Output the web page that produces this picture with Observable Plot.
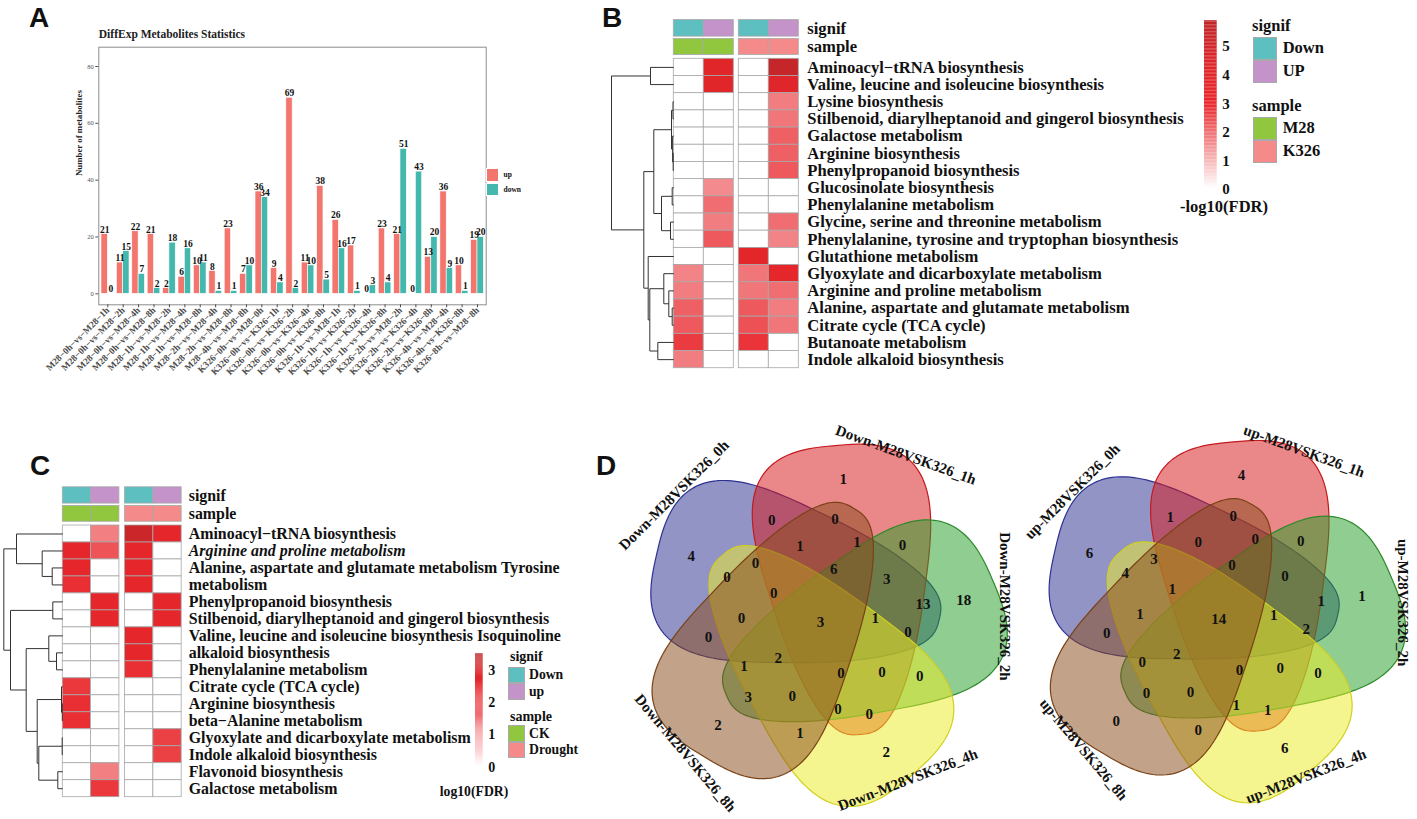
<!DOCTYPE html>
<html><head><meta charset="utf-8">
<script src="https://cdn.jsdelivr.net/npm/d3@7"></script>
<script src="https://cdn.jsdelivr.net/npm/@observablehq/plot@0.6"></script>
<style>
html,body{margin:0;padding:0;background:#fff;}
#root{position:relative;width:1417px;height:819px;overflow:hidden;font-family:"Liberation Serif","Times New Roman",serif;}
.t{position:absolute;white-space:nowrap;line-height:0;font-weight:bold;color:#111;}
.sw{position:absolute;box-sizing:border-box;}
svg{overflow:visible;}
</style></head><body><div id="root"></div>
<script>
const SERIF = "Liberation Serif, Times New Roman, serif";

// ---------------- Panel A data ----------------
const groupsA = ["M28−0h−vs−M28−1h","M28−0h−vs−M28−2h","M28−0h−vs−M28−4h","M28−0h−vs−M28−8h","M28−1h−vs−M28−2h","M28−1h−vs−M28−4h","M28−1h−vs−M28−8h","M28−2h−vs−M28−4h","M28−2h−vs−M28−8h","M28−4h−vs−M28−8h","K326−0h−vs−M28−0h","K326−0h−vs−K326−1h","K326−0h−vs−K326−2h","K326−0h−vs−K326−4h","K326−0h−vs−K326−8h","K326−1h−vs−M28−1h","K326−1h−vs−K326−2h","K326−1h−vs−K326−4h","K326−1h−vs−K326−8h","K326−2h−vs−M28−2h","K326−2h−vs−K326−4h","K326−2h−vs−K326−8h","K326−4h−vs−M28−4h","K326−4h−vs−K326−8h","K326−8h−vs−M28−8h"];
const upA   = [21,11,22,21,2,6,10,8,23,7,36,9,69,11,38,26,17,0,23,21,0,13,36,10,19];
const downA = [0,15,7,2,18,16,11,1,1,10,34,4,2,10,5,16,1,3,4,51,43,20,9,1,20];
const yTicksA = [0,20,40,60,80];

// ---------------- Panel B data ----------------
const rowsB = ["Aminoacyl−tRNA biosynthesis","Valine, leucine and isoleucine biosynthesis","Lysine biosynthesis","Stilbenoid, diarylheptanoid and gingerol biosynthesis","Galactose metabolism","Arginine biosynthesis","Phenylpropanoid biosynthesis","Glucosinolate biosynthesis","Phenylalanine metabolism","Glycine, serine and threonine metabolism","Phenylalanine, tyrosine and tryptophan biosynthesis","Glutathione metabolism","Glyoxylate and dicarboxylate metabolism","Arginine and proline metabolism","Alanine, aspartate and glutamate metabolism","Citrate cycle (TCA cycle)","Butanoate metabolism","Indole alkaloid biosynthesis"];
const bM28Down  = [0,0,0,0,0,0,0,0,0,0,0,0,1.7,1.8,2.2,2.3,2.7,1.8];
const bM28Up    = [4.0,4.1,0,0,0,0,0,1.6,2.0,1.8,2.3,0,0,0,0,0,0,0];
const bK326Down = [0,0,0,0,0,0,0,0,0,0,0,3.8,1.9,1.9,2.3,2.4,2.8,0];
const bK326Up   = [5.6,4.2,1.8,1.9,2.2,2.2,2.3,0,0,2.0,1.7,0,3.5,2.0,1.8,1.9,0,0];
const signifB = ["Down","UP","Down","UP"];
const sampleB = ["M28","M28","K326","K326"];
// dendrogram merges: [left, right, height]; negative = leaf (1-based row), positive = earlier merge
const treeB = [[-3,-4,0.8],[-6,-7,0.6],[-5,2,1.2],[1,3,2.3],[-8,-9,1.6],[-10,-11,3.3],[5,6,12.3],[4,7,20],[-15,-16,1.6],[-14,9,5],[-13,10,10],[-17,-18,16],[11,12,24],[-12,13,25.6],[8,14,30],[-1,-2,23.3],[16,15,62.3]];
const legendTicksB = [0,1,2,3,4,5];

// ---------------- Panel C data ----------------
const rowsC = ["Aminoacyl−tRNA biosynthesis","Arginine and proline metabolism","Alanine, aspartate and glutamate metabolism Tyrosine","metabolism","Phenylpropanoid biosynthesis","Stilbenoid, diarylheptanoid and gingerol biosynthesis","Valine, leucine and isoleucine biosynthesis Isoquinoline","alkaloid biosynthesis","Phenylalanine metabolism","Citrate cycle (TCA cycle)","Arginine biosynthesis","beta−Alanine metabolism","Glyoxylate and dicarboxylate metabolism","Indole alkaloid biosynthesis","Flavonoid biosynthesis","Galactose metabolism"];
const italicRowC = 1;
const cCKDown = [0,2.6,2.6,2.3,0,0,0,0,0,2.2,2.3,2.3,0,0,0,0];
const cCKUp   = [1.4,1.9,0,0,2.6,2.6,0,0,0,0,0,0,0,0,1.4,2.2];
const cDrDown = [3.3,2.6,2.6,2.6,0,0,2.6,2.6,2.3,0,0,0,0,0,0,0];
const cDrUp   = [2.6,0,0,0,2.6,2.6,0,0,0,0,0,0,2.1,2.1,0,0];
const signifC = ["Down","up","Down","up"];
const sampleC = ["CK","CK","Drought","Drought"];
const treeC = [[-3,-4,10.6],[-2,1,20.6],[-1,2,46.3],[-5,-6,10],[-8,-9,6.3],[-7,5,14],[-11,-12,0.5],[-10,7,1.3],[-13,-14,0.6],[-15,-16,5],[9,10,24],[8,11,25.6],[6,12,36.6],[4,13,52.3],[3,14,59]];
const legendTicksC = [0,1,2,3];

// ---------------- Panel D data (region counts, by rotational orbit; index k = set 0h,1h,2h,4h,8h) ----------------
const setNamesDown = ["Down-M28VSK326_0h","Down-M28VSK326_1h","Down-M28VSK326_2h","Down-M28VSK326_4h","Down-M28VSK326_8h"];
const setNamesUp   = ["up-M28VSK326_0h","up-M28VSK326_1h","up-M28VSK326_2h","up-M28VSK326_4h","up-M28VSK326_8h"];
const downOnly = [4,1,18,2,2];
const downB = [0,0,0,1,0];
const downC = [0,0,13,0,3];
const downD = [0,6,1,0,2];
const downE = [0,1,0,0,1];
const downF = [0,1,3,0,0];
const downAll = 3;
const upOnly = [6,4,1,6,0];
const upB = [1,0,0,0,0];
const upC = [4,0,1,1,0];
const upD = [1,0,1,0,2];
const upE = [3,0,2,1,0];
const upF = [1,0,0,0,0];
const upAll = 14;

// ---------------- helpers ----------------
const root = document.getElementById("root");
function put(node, x, y){ node.style.position="absolute"; node.style.left=x+"px"; node.style.top=y+"px"; root.appendChild(node); return node; }
function txt(s, x, base, size, o={}){
  const d=document.createElement("div"); d.className="t"; d.textContent=s;
  const fam = o.sans ? "Liberation Sans, Arial, sans-serif" : SERIF;
  const k = o.sans ? 0.3465 : 0.3375;
  d.style.fontFamily=fam; d.style.fontSize=size+"px";
  d.style.left=x+"px"; d.style.top=(base-k*size)+"px";
  if(o.center) d.style.transform="translateX(-50%)";
  if(o.color) d.style.color=o.color;
  root.appendChild(d); return d;
}
function swatch(x,y,w,h,color,border){
  const d=document.createElement("div"); d.className="sw";
  d.style.left=x+"px"; d.style.top=y+"px"; d.style.width=w+"px"; d.style.height=h+"px";
  d.style.background=color; d.style.border="1px solid "+(border||"#aaa");
  root.appendChild(d);
}
function dendro(merges, leafY, hx){
  const nx=[], ny=[], segs=[];
  const pos = r => r<0 ? {x:0,y:leafY(-r-1)} : {x:nx[r-1],y:ny[r-1]};
  merges.forEach(([a,b,h],j)=>{
    const pa=pos(a), pb=pos(b), x=-h*hx;
    nx[j]=x; ny[j]=(pa.y+pb.y)/2;
    segs.push({x1:pa.x,y1:pa.y,x2:x,y2:pa.y},{x1:pb.x,y1:pb.y,x2:x,y2:pb.y},{x1:x,y1:pa.y,x2:x,y2:pb.y});
  });
  return segs;
}
const annColor = {Down:"#5DBFC0", UP:"#C493C9", up:"#C493C9", M28:"#90C73E", K326:"#F48A89", CK:"#90C73E", Drought:"#F48A89"};

// ---------------- Panel letters ----------------
txt("A", 29, 28, 28, {sans:true});
txt("B", 602, 28, 28, {sans:true});
txt("C", 30, 476, 28, {sans:true});
txt("D", 596, 476, 28, {sans:true});

// ---------------- Panel A ----------------
{
  const BW = 0.41;
  const ups = upA.map((v,i)=>({i,v})), downs = downA.map((v,i)=>({i,v}));
  const svg = Plot.plot({
    width:560, height:420, marginLeft:98.3, marginRight:74.3, marginTop:46.7, marginBottom:115.7,
    x:{type:"linear", domain:[0,24], range:[107.3,477]},
    y:{type:"linear", domain:[0,80], range:[293.3,66]},
    style:{fontFamily:SERIF, background:"none", overflow:"visible"},
    marks:[
      Plot.rect(ups,{x1:d=>d.i-BW, x2:d=>d.i, y1:0, y2:"v", fill:"#F2756E", stroke:"white", strokeWidth:0.6}),
      Plot.rect(downs,{x1:d=>d.i, x2:d=>d.i+BW, y1:0, y2:"v", fill:"#44B8AC", stroke:"white", strokeWidth:0.6}),
      Plot.text(ups,{x:d=>d.i-BW/2, y:"v", text:d=>String(d.v), dy:-1.5, lineAnchor:"bottom", fontSize:9.5, fontWeight:"bold", fill:"#111"}),
      Plot.text(downs,{x:d=>d.i+BW/2, y:"v", text:d=>String(d.v), dy:-1.5, lineAnchor:"bottom", fontSize:9.5, fontWeight:"bold", fill:"#111"}),
      Plot.frame({stroke:"#8c8c8c", strokeWidth:1}),
      Plot.axisY({ticks:yTicksA, tickSize:3, tickPadding:2, fontSize:6.5, color:"#555", label:null}),
      Plot.axisX({ticks:d3.range(groupsA.length), tickFormat:i=>groupsA[i], tickRotate:-45, tickSize:3, tickPadding:1, fontSize:9.3, fontWeight:"bold", color:"#4d4d4d", label:null}),
      Plot.text(["DiffExp Metabolites Statistics"],{frameAnchor:"top-left", dy:-9, textAnchor:"start", lineAnchor:"bottom", fontSize:11.5, fontWeight:"bold", fill:"#222"}),
      Plot.text(["Number of metabolites"],{frameAnchor:"left", dx:-19.3, rotate:-90, fontSize:8.8, fontWeight:"bold", fill:"#222"})
    ]
  });
  put(svg,0,0);
  swatch(485.7,168.3,13.5,13.5,"#F2756E","#fff");
  swatch(485.7,182.6,13.5,13.5,"#44B8AC","#fff");
  txt("up",503.5,178,7.5);
  txt("down",503.5,192.3,7.5);
}

// ---------------- heatmap builder ----------------
function heatmap({rows, cols, signif, sample, tree, left, top, width, height, x0, cw, y0, rh, gap, labelX, fontSize, color, italicRow}){
  const cells=[];
  cols.forEach((vals,c)=>vals.forEach((v,r)=>cells.push({c,r,v})));
  const cx = c => c + (c>=2?gap:0);
  const ann=[];
  for(let c=0;c<4;c++){ ann.push({c,row:0,key:signif[c]}); ann.push({c,row:1,key:sample[c]}); }
  const annY1 = a => a.row===0 ? -2.25 : -1.15, annY2 = a => a.row===0 ? -1.29 : -0.22;
  const annMarks = Object.keys(annColor).map(key => Plot.rect(ann.filter(a=>a.key===key),{x1:a=>cx(a.c), x2:a=>cx(a.c)+1, y1:annY1, y2:annY2, fill:annColor[key], stroke:"#a8a8a8", strokeWidth:0.8}));
  const segs = dendro(tree, i=>i+0.5, 1/cw);
  const labels = rows.map((s,i)=>({s,i}));
  const svg = Plot.plot({
    width, height, margin:0,
    x:{type:"linear", domain:[0,1], range:[x0-left, x0-left+cw], axis:null},
    y:{type:"linear", domain:[0,1], range:[y0-top, y0-top+rh], axis:null},
    color, 
    style:{fontFamily:SERIF, background:"none", overflow:"visible"},
    marks:[
      Plot.rect(cells,{x1:d=>cx(d.c), x2:d=>cx(d.c)+1, y1:d=>d.r, y2:d=>d.r+1, fill:"v", stroke:"#a8a8a8", strokeWidth:0.8}),
      ...annMarks,
      Plot.link(segs,{x1:"x1",y1:"y1",x2:"x2",y2:"y2", stroke:"#333", strokeWidth:1}),
      Plot.text(labels.filter(d=>d.i!==italicRow),{x:labelX, y:d=>d.i+0.5, text:"s", textAnchor:"start", fontSize, fontWeight:"bold", fill:"#111"}),
      Plot.text(labels.filter(d=>d.i===italicRow),{x:labelX, y:d=>d.i+0.5, text:"s", textAnchor:"start", fontSize, fontWeight:"bold", fontStyle:"italic", fill:"#111"}),
      Plot.text(["signif","sample"],{x:labelX, y:(d,i)=> i===0 ? (-2.25-1.29)/2 : (-1.15-0.22)/2, text:d=>d, textAnchor:"start", fontSize, fontWeight:"bold", fill:"#111"})
    ]
  });
  put(svg,left,top);
}
function colorbar({left, top, width, height, x0, x1, vlo, vhi, ylo, yhi, ticks, color, fontSize}){
  const steps = d3.range(vlo, vhi, (vhi-vlo)/120).map(v=>({v, w:(vhi-vlo)/120}));
  const svg = Plot.plot({
    width, height, margin:0,
    x:{type:"linear", domain:[0,1], range:[x0-left, x1-left], axis:null},
    y:{type:"linear", domain:[vlo,vhi], range:[ylo-top, yhi-top], axis:null},
    color,
    style:{fontFamily:SERIF, background:"none", overflow:"visible"},
    marks:[
      Plot.rect(steps,{x1:0, x2:1, y1:"v", y2:d=>d.v+d.w*1.05, fill:"v"}),
      Plot.text(ticks,{x:1, y:d=>d, text:d=>String(d), dx:5, textAnchor:"start", fontSize, fontWeight:"bold", fill:"#111"})
    ]
  });
  put(svg,left,top);
}

// ---------------- Panel B ----------------
const colorB = {type:"linear", domain:[0,3,4.2,6], range:["#ffffff","#e8262b","#e0262a","#bd262a"], interpolate:d3.interpolateRgb, clamp:true};
heatmap({rows:rowsB, cols:[bM28Down,bM28Up,bK326Down,bK326Up], signif:signifB, sample:sampleB, tree:treeB,
  left:595, top:0, width:600, height:380, x0:673.3, cw:30, y0:58.3, rh:17.19, gap:0.167, labelX:4.45, fontSize:16.6, color:colorB, italicRow:-1});
colorbar({left:1190, top:0, width:60, height:200, x0:1204, x1:1216.7, vlo:0, vhi:5.9, ylo:189, yhi:189-28.6*5.9, ticks:legendTicksB, color:colorB, fontSize:15});
txt("-log10(FDR)", 1180, 213, 16.5);
txt("signif", 1252, 32, 16.5);
swatch(1252.7,37,24,23,annColor.Down);
swatch(1252.7,60,24,23,annColor.UP);
txt("Down",1282.7,54,16.5); txt("UP",1282.7,77,16.5);
txt("sample", 1252, 111.5, 16.5);
swatch(1252.7,117,24,23,annColor.M28);
swatch(1252.7,140,24,23,annColor.K326);
txt("M28",1282.7,134,16.5); txt("K326",1282.7,157,16.5);

// ---------------- Panel C ----------------
const colorC = {type:"linear", domain:[0,2.4,2.9,3.5], range:["#ffffff","#e8262b","#e0262a","#c0272a"], interpolate:d3.interpolateRgb, clamp:true};
heatmap({rows:rowsC, cols:[cCKDown,cCKUp,cDrDown,cDrUp], signif:signifC, sample:sampleC, tree:treeC,
  left:0, top:440, width:580, height:370, x0:62.3, cw:28.3, y0:525, rh:16.98, gap:0.2, labelX:4.45, fontSize:15.9, color:colorC, italicRow:italicRowC});
colorbar({left:440, top:640, width:70, height:150, x0:475, x1:482.7, vlo:-0.31, vhi:3.52, ylo:766.7+0.31*32.2, yhi:766.7-3.52*32.2, ticks:legendTicksC, color:colorC, fontSize:14});
txt("log10(FDR)", 474, 797, 13.7, {center:true});
txt("signif", 510, 662, 14);
swatch(508.3,666.7,17,16.7,annColor.Down);
swatch(508.3,683.3,17,16.7,annColor.up);
txt("Down",529,680,13.7); txt("up",529,697,13.7);
txt("sample", 510, 722, 14);
swatch(508.3,725,17,16.7,annColor.CK);
swatch(508.3,741.7,17,16.7,annColor.Drought);
txt("CK",529,738.5,13.7); txt("Drought",529,755,13.7);

// ---------------- Panel D (5-set Venn) ----------------
const vennFill = ["#2E3192","#D7191C","#2BA02B","#EBEB28","#8B4C1C"];
const vennStroke = ["#2E3192","#C41A1E","#2A8A2A","#D0D020","#7A4216"];
const SH = {phi0:-167, s:30, o:30, a:145, b:110, taper:0.58, n:2.8};
const orbitGeom = {A:[-153,145], B:[-115.5,113], C:[-154,104], D:[-148,55], E:[-137.5,88], F:[-177,79]};
const setLabelAngle = [-139,-63,-5,61,136], setLabelR = [194,188,185,180,188], setLabelRot = [-45,20,90,-21,50];
const rad = d => d*Math.PI/180;
function shapePts(k){
  const phi = rad(SH.phi0 + 72*k);
  const eo=[Math.cos(phi),Math.sin(phi)], ep=[Math.cos(phi+Math.PI/2),Math.sin(phi+Math.PI/2)];
  const c=[SH.s*eo[0]+SH.o*ep[0], SH.s*eo[1]+SH.o*ep[1]];
  const pts=[];
  for(let j=0;j<180;j++){
    const t=2*Math.PI*j/180, ct=Math.cos(t), st=Math.sin(t);
    const u=SH.a*Math.sign(ct)*Math.pow(Math.abs(ct),2/SH.n);
    const v=SH.b*Math.sign(st)*Math.pow(Math.abs(st),2/SH.n)*(1-SH.taper*(SH.a-u)/(2*SH.a));
    pts.push({x:c[0]+u*eo[0]+v*ep[0], y:c[1]+u*eo[1]+v*ep[1]});
  }
  return pts;
}
function venn(left, top, width, height, cx, cy, names, orbits, center){
  const labels=[{x:0,y:0,t:center}];
  Object.entries(orbits).forEach(([key,vals])=>{
    const [th,r]=orbitGeom[key];
    vals.forEach((v,k)=>{ const a=rad(th+72*k); labels.push({x:r*Math.cos(a), y:r*Math.sin(a), t:v}); });
  });
  const nameMarks = names.map((nm,k)=>{
    const th = rad(setLabelAngle[k]), r = setLabelR[k];
    return Plot.text([nm],{x:r*Math.cos(th), y:r*Math.sin(th), text:d=>d, rotate:setLabelRot[k], fontSize:15, fontWeight:"bold", fill:"#111"});
  });
  const svg = Plot.plot({
    width, height, margin:0,
    x:{type:"linear", domain:[-cx, width-cx], range:[0,width], axis:null},
    y:{type:"linear", domain:[-cy, height-cy], range:[0,height], axis:null},
    style:{fontFamily:SERIF, background:"none", overflow:"visible"},
    marks:[
      ...d3.range(5).map(k=>Plot.line(shapePts(k),{x:"x",y:"y",curve:"linear-closed", fill:vennFill[k], fillOpacity:0.52, stroke:vennStroke[k], strokeWidth:1.2})),
      Plot.text(labels,{x:"x",y:"y",text:d=>String(d.t), fontSize:15, fontWeight:"bold", fill:"#111"}),
      ...nameMarks
    ]
  });
  put(svg,left,top);
}
venn(590,440,420,379,230,182,setNamesDown,{A:downOnly,B:downB,C:downC,D:downD,E:downE,F:downF},downAll);
venn(1000,440,417,379,218.3,178.3,setNamesUp,{A:upOnly,B:upB,C:upC,D:upD,E:upE,F:upF},upAll);
</script></body></html>
